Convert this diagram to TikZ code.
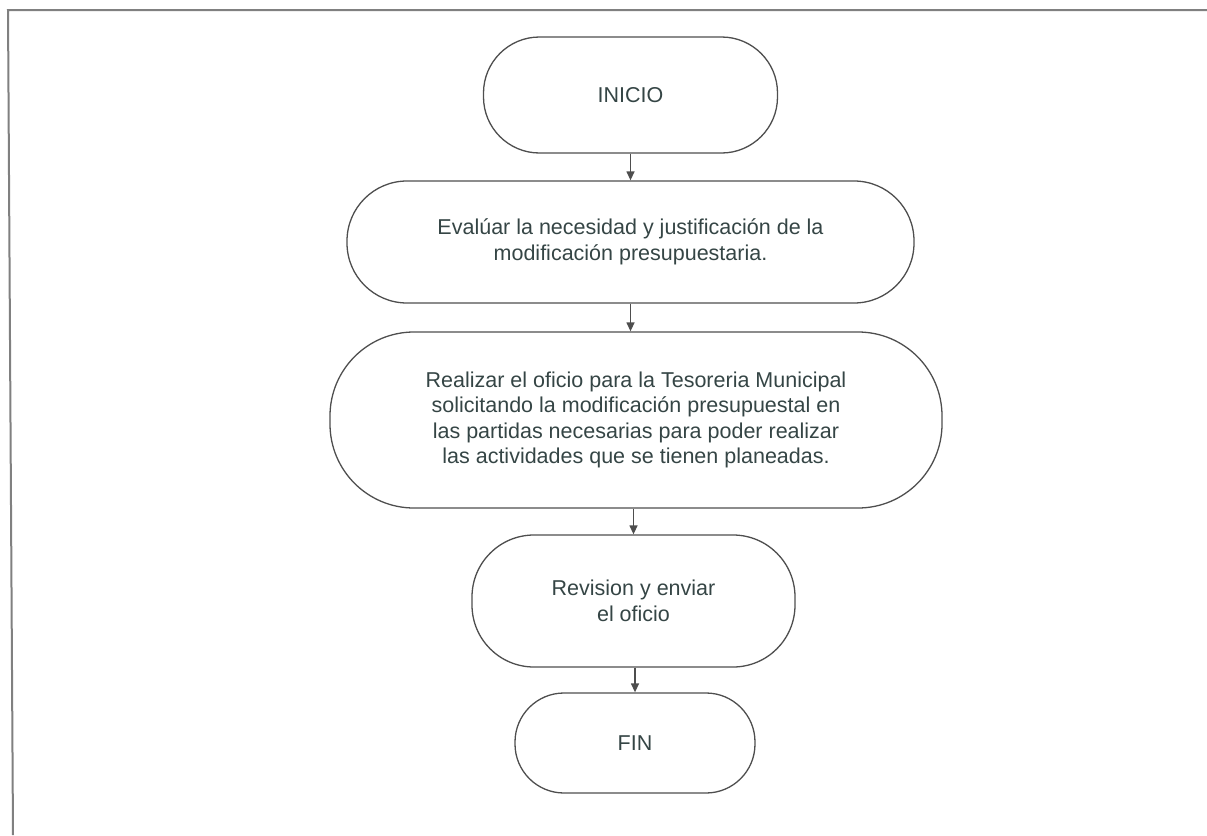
\documentclass[tikz,border=0pt]{standalone}
\usepackage{fontspec}
\setmainfont{Liberation Sans}
\usetikzlibrary{arrows.meta}
\definecolor{linegray}{HTML}{4E4E4E}
\definecolor{framegray}{HTML}{808080}
\definecolor{txt}{HTML}{354545}
\tikzset{
  term/.style={draw=linegray, line width=1.3pt, rectangle, align=center,
    text=txt, inner sep=0pt, font=\fontsize{21.5}{25.5}\selectfont},
  flow/.style={draw=linegray, line width=1.3pt, -{Triangle[length=9pt,width=8pt]}},
  frame/.style={draw=framegray, line width=2pt}
}
\begin{document}
\begin{tikzpicture}[x=1pt,y=-1pt]
\useasboundingbox (0,0) rectangle (1207,835);
% frame (top and left edges)
\coordinate (fa) at (1207,10);
\coordinate (fb) at (8,10);
\coordinate (fc) at (13,835);
\draw[frame] (fa) -- (fb) -- (fc);
% nodes
\node[term, minimum width=294pt, minimum height=116pt, rounded corners=56pt] (ini) at (630.5,95) {INICIO};
\node[term, minimum width=567pt, minimum height=122pt, rounded corners=60pt] (eva) at (630.5,242) {Evalúar la necesidad y justificación de la\\modificación presupuestaria.};
\node[term, minimum width=612pt, minimum height=176pt, rounded corners=84pt] (rea) at (636,420) {Realizar el oficio para la Tesoreria Municipal\\solicitando la modificación presupuestal en\\las partidas necesarias para poder realizar\\las actividades que se tienen planeadas.};
\node[term, minimum width=323pt, minimum height=132pt, rounded corners=62pt] (rev) at (633.5,601) {Revision y enviar\\el oficio};
\node[term, minimum width=240pt, minimum height=100pt, rounded corners=49pt] (fin) at (635,743) {FIN};
% connectors
\draw[flow] (ini.south) -- (ini.south |- eva.north);
\draw[flow] (eva.south -| ini.south) -- (ini.south |- rea.north);
\draw[flow] (rea.south -| rev.north) -- (rev.north);
\draw[flow] (rev.south -| fin.north) -- (fin.north);
\end{tikzpicture}
\end{document}
